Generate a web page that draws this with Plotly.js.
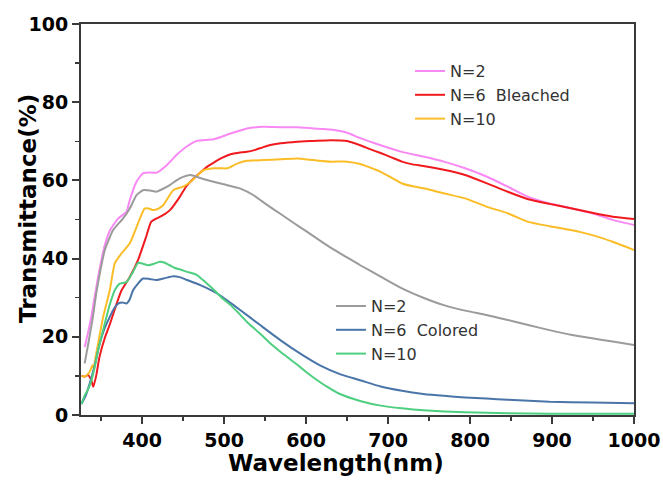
<!DOCTYPE html>
<html><head><meta charset="utf-8">
<script src="https://cdn.plot.ly/plotly-3.0.1.min.js"></script>
<style>html,body{margin:0;padding:0;background:#fff}#chart{width:663px;height:484px}</style>
</head><body><div id="chart"></div>
<script>
// Legend labels and axis titles
const namesBleached = ['N=2', 'N=6\u00a0 Bleached', 'N=10'];
const namesColored = ['N=2', 'N=6\u00a0 Colored', 'N=10'];
const xTitle = 'Wavelength(nm)';
const yTitle = 'Transmittance(%)';

// Bleached N=2
const pinkX = [330,334,338,342,347,354,361,371,381,385,393,401,410,418,430,442,454,467,487,508,528,548,569,589,609,630,650,666,691,717,743,768,794,820,846,871,897,923,949,974,1000];
const pinkY = [17.4,21,25,30,36,43,47.3,50.3,52,55,59.6,61.8,62,62,63.9,66.5,68.6,70.1,70.5,72,73.3,73.7,73.6,73.6,73.3,73,72.2,70.8,69,67.3,66.1,64.8,63.1,61,58.4,55.8,54.1,52.9,51.6,49.9,48.6];
// Bleached N=6
const redX = [326,330,334,338,340.5,344,348,355,361,369,375,385,395,405,411,417,424,434,446,454,462,471,480,487,498,508,518,528,538,548,558,569,589,609,630,650,666,678,691,704,717,730,743,768,794,820,846,871,897,923,949,974,1000];
const redY = [10.0,9.8,10.2,9.0,7.2,10,14.8,20,23.4,28.5,31.9,35.3,39.6,45.6,49.4,50.2,50.9,52.4,55.8,58.5,60.3,62,63.6,64.5,65.8,66.7,67.1,67.3,67.8,68.5,69.1,69.5,69.9,70.1,70.3,70.1,69,68,67,65.9,64.8,64.1,63.7,62.7,61.4,59.3,57.1,55.2,54,52.9,51.7,50.7,50.1];
// Bleached N=10
const orangeX = [326,330,336,339.5,341,343,347,352.5,360.6,366.7,374.8,385,395,403,408,414,420,426,438,450,459,467,475,487,496,504,516,528,548,569,589,609,630,650,666,678,691,704,717,730,743,768,794,820,846,871,897,923,949,974,1000];
const orangeY = [10.0,9.8,11,12.7,12,14.5,19,25.1,31.9,38.8,41.3,43.9,49,52.8,52.8,52.4,52.8,53.7,57.5,58.4,59.6,61.2,62.6,63.1,63.1,63.1,64.3,65,65.2,65.4,65.6,65.2,64.8,64.8,64.2,63.3,62.2,60.7,59.2,58.5,58,56.7,55.4,53.3,51.6,49.4,48.3,47.3,46,44.3,42.2];
// Colored N=2
const grayX = [330,335,340,344,348.4,354.5,364.7,376.9,385,393,401,410,417.5,425,433.7,442,450,459,471,479,499.5,520,536,552,569,585,601,617,633,650,666,691,717,743,768,794,820,846,871,897,923,949,974,1000];
const grayY = [13.2,19,25.1,31,36.2,42.2,47.3,50.3,52.8,56.2,57.5,57.4,57.1,57.8,58.8,60,60.9,61.4,60.6,60.1,59,57.9,56.2,53.8,51.4,49.1,46.9,44.6,42.4,40.3,38.3,35.4,32.4,30,28.1,26.7,25.6,24.3,23,21.7,20.5,19.6,18.8,17.9];
// Colored N=6
const blueX = [326,331,336,342,348.4,354,360.6,366,370.8,376,381,385,389,395,401,409,417.5,428,438,446.7,454,471,487,495,520,544,569,593,617,642,666,691,717,743,768,794,820,846,897,949,1000];
const blueY = [2.8,4.8,8,12.5,18.3,22,25.1,27.3,28.5,28.8,28.5,29.6,31.9,33.6,34.9,34.8,34.5,35,35.5,35.2,34.6,33.2,31.6,30.6,26.8,23,19.1,15.7,12.7,10.4,8.9,7.3,6.2,5.4,4.9,4.5,4.2,3.9,3.4,3.2,3.0];
// Colored N=10
const greenX = [326,330,334,338.3,342,346.4,351,356.6,361,366.7,372.8,381,389,395,401,407.4,414,421.5,427,433.7,440,446.7,455,467,477,487,497,508,518,528,538,548,558,569,579,589,599,609,625,640,666,691,717,743,794,846,897,1000];
const greenY = [2.8,5.0,6.5,8.9,12,16.6,20.5,25.1,28.5,31.9,33.6,34,36.6,38.9,38.7,38.3,38.6,39.2,39,38.3,37.6,37.2,36.6,35.8,34.0,32.1,30.0,28.1,26,23.8,21.9,20,18,16.1,14.5,12.9,11.2,9.6,7.3,5.5,3.6,2.4,1.7,1.2,0.7,0.45,0.35,0.3];

const xTicks = [400,500,600,700,800,900,1000];
const yTicks = [0,20,40,60,80,100];

function tr(x, y, name, color, legend) {
  return {x: x, y: y, name: name, type: 'scatter', mode: 'lines',
    line: {color: color, width: 2, shape: 'spline', smoothing: 0.5}, legend: legend};
}
const data = [
  tr(pinkX, pinkY, namesBleached[0], '#f889f4', 'legend'),
  tr(redX, redY, namesBleached[1], '#f01a1e', 'legend'),
  tr(orangeX, orangeY, namesBleached[2], '#fbbd27', 'legend'),
  tr(grayX, grayY, namesColored[0], '#9b9b9b', 'legend2'),
  tr(blueX, blueY, namesColored[1], '#4a75a8', 'legend2'),
  tr(greenX, greenY, namesColored[2], '#4ecf80', 'legend2')
];

const axisColor = '#3a3a3a';
const boldFont = 'DejaVu Sans, Verdana, sans-serif';
const layout = {
  width: 663, height: 484,
  margin: {l: 81, r: 29, t: 24, b: 69},
  paper_bgcolor: '#ffffff', plot_bgcolor: '#ffffff',
  font: {family: boldFont, color: '#000'},
  showlegend: true,
  xaxis: {
    range: [325.5, 1000], tickvals: xTicks, ticktext: xTicks.map(String),
    showline: true, mirror: true, linecolor: axisColor, linewidth: 2,
    ticks: 'outside', ticklen: 7, tickwidth: 2, tickcolor: axisColor,
    minor: {dtick: 50, tick0: 0, ticks: 'outside', ticklen: 4, tickwidth: 1.5, tickcolor: axisColor},
    showgrid: false, zeroline: false,
    tickfont: {family: boldFont, size: 19, weight: 700, color: '#000'}
  },
  yaxis: {
    range: [0, 100], tickvals: yTicks, ticktext: yTicks.map(String),
    showline: true, mirror: true, linecolor: axisColor, linewidth: 2,
    ticks: 'outside', ticklen: 7, tickwidth: 2, tickcolor: axisColor,
    minor: {dtick: 10, tick0: 0, ticks: 'outside', ticklen: 4, tickwidth: 1.5, tickcolor: axisColor},
    showgrid: false, zeroline: false,
    tickfont: {family: boldFont, size: 19, weight: 700, color: '#000'}
  },
  annotations: [
    {text: xTitle, xref: 'paper', yref: 'paper', x: 0.4614, y: -0.124, xanchor: 'center', yanchor: 'middle',
     showarrow: false, font: {family: boldFont, size: 23, weight: 700, color: '#000'}},
    {text: yTitle, xref: 'paper', yref: 'paper', x: -0.097, y: 0.528, xanchor: 'center', yanchor: 'middle',
     textangle: -90, showarrow: false, font: {family: boldFont, size: 23, weight: 700, color: '#000'}}
  ],
  legend: {x: 0.595, xanchor: 'left', y: 0.923, yanchor: 'top', bgcolor: 'rgba(0,0,0,0)',
    font: {family: boldFont, size: 16, color: '#333'}, tracegroupgap: 0},
  legend2: {x: 0.452, xanchor: 'left', y: 0.322, yanchor: 'top', bgcolor: 'rgba(0,0,0,0)',
    font: {family: boldFont, size: 16, color: '#333'}, tracegroupgap: 0}
};

Plotly.newPlot('chart', data, layout, {displayModeBar: false, staticPlot: true});
</script>
</body></html>
